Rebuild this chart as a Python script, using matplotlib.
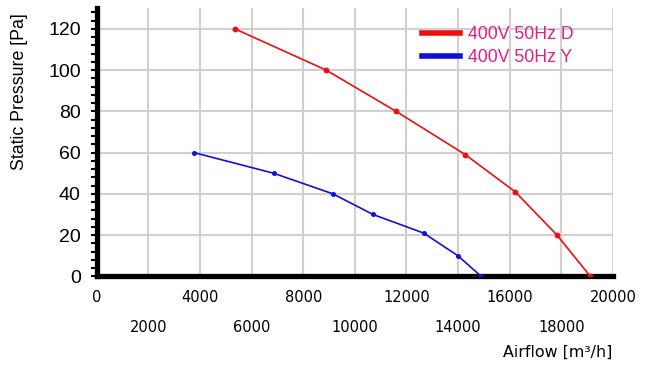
import numpy as np
import matplotlib.pyplot as plt
from matplotlib.ticker import MultipleLocator

# fan curves
airflow_d = [5360, 8890, 11600, 14280, 16210, 17830, 19120]
pressure_d = [120, 100, 80, 59, 41, 20, 0]
airflow_y = [3770, 6850, 9150, 10700, 12660, 13990, 14890]
pressure_y = [60, 50, 40, 30, 21, 10, 0]
labels = ['400V 50Hz D', '400V 50Hz Y']

row1_ticks = [0, 4000, 8000, 12000, 16000, 20000]
row2_ticks = [2000, 6000, 10000, 14000, 18000]
y_ticks = [0, 20, 40, 60, 80, 100, 120]

W, H = 646, 384
fig = plt.figure(figsize=(W / 100, H / 100), dpi=100)
ax = fig.add_axes([96.7 / W, 1 - 276.3 / H, (613 - 96.7) / W, (276.3 - 8.3) / H])

ax.plot(airflow_d, pressure_d, color='#e81010', lw=1.2, marker='o', ms=3.2, label=labels[0], zorder=3)
ax.plot(airflow_y, pressure_y, color='#1010d8', lw=1.2, marker='o', ms=2.6, label=labels[1], zorder=3)

ax.set_xlim(0, 20000)
ax.set_ylim(0, 130)

ax.xaxis.set_major_locator(MultipleLocator(2000))
ax.xaxis.set_minor_locator(MultipleLocator(400))
ax.yaxis.set_minor_locator(MultipleLocator(4))
ax.set_yticks(y_ticks)
ax.grid(True, which='major', color='#d0d0d0', lw=1.5, zorder=0)
ax.set_axisbelow(True)

for s in ['top', 'right']:
    ax.spines[s].set_visible(False)
for s in ['left', 'bottom']:
    ax.spines[s].set_linewidth(3.8)
    ax.spines[s].set_capstyle('projecting')

ax.tick_params(axis='y', which='both', length=4, width=1.5, pad=7.5,
               labelsize=14, direction='out')
ax.tick_params(axis='x', which='both', length=2.5, width=1.2, direction='out')
for t in ax.get_yticklabels():
    t.set_fontfamily('Liberation Sans')

# two-row x tick labels
ax.set_xticklabels([])
ax.tick_params(axis='x', which='major', pad=0)
for v in row1_ticks:
    ax.annotate(str(v), xy=(v, 0), xycoords=('data', 'axes fraction'),
                xytext=(0, -21), textcoords='offset pixels',
                ha='center', va='center', fontsize=10.5, family='DejaVu Sans')
for v in row2_ticks:
    ax.annotate(str(v), xy=(v, 0), xycoords=('data', 'axes fraction'),
                xytext=(0, -51), textcoords='offset pixels',
                ha='center', va='center', fontsize=10.5, family='DejaVu Sans')

fig.text(20 / W, 1 - 91.5 / H, 'Static Pressure [Pa]', rotation=90,
         ha='center', va='center', fontsize=12.8, family='Liberation Sans')
fig.text(612 / W, 1 - 352 / H, 'Airflow [m³/h]', ha='right', va='center',
         fontsize=11.4, family='DejaVu Sans')

leg = ax.legend(loc='upper left', bbox_to_anchor=(421.7 / W, 1 - 26 / H),
                bbox_transform=fig.transFigure, frameon=False, borderpad=0,
                borderaxespad=0, handlelength=2.15, handletextpad=0.45,
                labelspacing=0.33, prop={'family': 'Liberation Sans', 'size': 12.7})
for line in leg.get_lines():
    line.set_linewidth(4)
    line.set_marker('')
for t in leg.get_texts():
    t.set_color('#e0208a')

fig.savefig('out.png', dpi=100)
